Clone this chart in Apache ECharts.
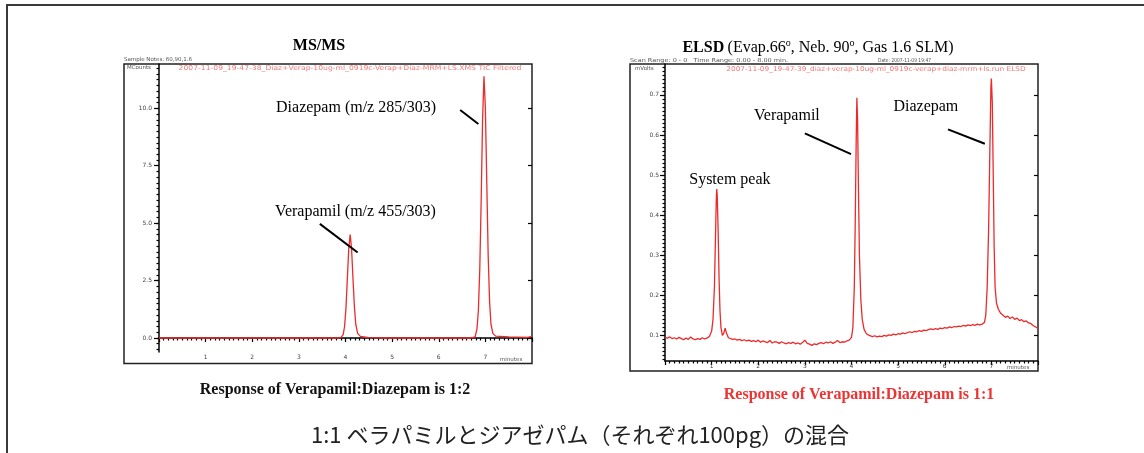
<!DOCTYPE html>
<html>
<head>
<meta charset="utf-8">
<script src="https://cdn.jsdelivr.net/npm/echarts@6/dist/echarts.min.js"></script>
<style>
  html, body { margin: 0; padding: 0; background: #fff; }
  #chart { width: 1144px; height: 453px; }
</style>
</head>
<body>
<div id="chart"></div>
<script>
// MS/MS trace (minutes, MCounts)
const msTime = [0, 3.80, 3.90, 3.95, 3.98, 4.01, 4.04, 4.07, 4.10, 4.13, 4.16, 4.19, 4.22, 4.26, 4.32, 4.50, 4.80,
  6.70, 6.78, 6.82, 6.85, 6.88, 6.91, 6.94, 6.97, 7.00, 7.03, 7.06, 7.09, 7.12, 7.16, 7.22, 7.50, 7.90, 8.00]
const msCounts = [0, 0, 0.02, 0.15, 0.5, 1.3, 2.6, 3.9, 4.5, 3.9, 2.6, 1.4, 0.6, 0.2, 0.07, 0.02, 0,
  0, 0.05, 0.4, 1.2, 3.0, 6.0, 9.5, 11.4, 10.0, 6.8, 3.6, 1.6, 0.6, 0.2, 0.08, 0.05, 0.03, 0.07]

// ELSD trace (minutes, mVolts)
const elsdTime = [0.00, 0.05, 0.10, 0.15, 0.20, 0.25, 0.30, 0.35, 0.40, 0.45, 0.50, 0.55, 0.60, 0.65, 0.70, 0.75,
  0.80, 0.85, 0.90, 0.95, 1.00, 1.03, 1.06, 1.08, 1.10, 1.11, 1.12, 1.14, 1.16, 1.18, 1.20, 1.23, 1.26, 1.29,
  1.32, 1.36, 1.40, 1.45, 1.50, 1.55, 1.60, 1.65, 1.70, 1.75, 1.80, 1.85, 1.90, 1.95, 2.00, 2.05, 2.10, 2.15,
  2.20, 2.25, 2.30, 2.35, 2.40, 2.45, 2.50, 2.55, 2.60, 2.65, 2.70, 2.75, 2.80, 2.85, 2.90, 2.95, 3.00, 3.05,
  3.10, 3.15, 3.20, 3.25, 3.30, 3.35, 3.40, 3.45, 3.50, 3.55, 3.60, 3.65, 3.70, 3.75, 3.80, 3.85, 3.90, 3.95,
  4.00, 4.03, 4.06, 4.08, 4.10, 4.115, 4.13, 4.15, 4.17, 4.20, 4.23, 4.27, 4.32, 4.38, 4.45, 4.50, 4.55, 4.60,
  4.65, 4.70, 4.75, 4.80, 4.85, 4.90, 4.95, 5.00, 5.05, 5.10, 5.15, 5.20, 5.25, 5.30, 5.35, 5.40, 5.45, 5.50,
  5.55, 5.60, 5.65, 5.70, 5.75, 5.80, 5.85, 5.90, 5.95, 6.00, 6.05, 6.10, 6.15, 6.20, 6.25, 6.30, 6.35, 6.40,
  6.45, 6.50, 6.55, 6.60, 6.65, 6.70, 6.75, 6.80, 6.85, 6.88, 6.91, 6.94, 6.97, 6.99, 7.00, 7.02, 7.04, 7.06,
  7.08, 7.11, 7.15, 7.20, 7.25, 7.30, 7.35, 7.40, 7.45, 7.50, 7.55, 7.60, 7.65, 7.70, 7.75, 7.80, 7.85, 7.90,
  7.95, 8.00]
const elsdVolts = [0.095, 0.093, 0.096, 0.092, 0.094, 0.091, 0.095, 0.092, 0.089, 0.093, 0.090, 0.096, 0.091, 0.089, 0.092, 0.090,
  0.094, 0.091, 0.093, 0.097, 0.11, 0.14, 0.22, 0.33, 0.44, 0.465, 0.45, 0.36, 0.24, 0.16, 0.12, 0.10, 0.105, 0.118,
  0.105, 0.094, 0.092, 0.090, 0.091, 0.088, 0.090, 0.087, 0.089, 0.086, 0.088, 0.085, 0.087, 0.084, 0.088, 0.083, 0.086, 0.084,
  0.082, 0.087, 0.081, 0.084, 0.083, 0.080, 0.084, 0.081, 0.079, 0.082, 0.080, 0.083, 0.079, 0.081, 0.078, 0.082, 0.088, 0.080,
  0.078, 0.075, 0.079, 0.077, 0.080, 0.082, 0.079, 0.083, 0.081, 0.084, 0.080, 0.083, 0.087, 0.082, 0.084, 0.083, 0.086, 0.088,
  0.095, 0.12, 0.22, 0.38, 0.58, 0.693, 0.64, 0.46, 0.30, 0.19, 0.14, 0.115, 0.104, 0.100, 0.097, 0.099, 0.096, 0.098,
  0.097, 0.100, 0.098, 0.101, 0.100, 0.103, 0.101, 0.104, 0.103, 0.106, 0.104, 0.107, 0.109, 0.107, 0.110, 0.109, 0.112, 0.110,
  0.113, 0.112, 0.114, 0.116, 0.114, 0.117, 0.115, 0.118, 0.117, 0.119, 0.118, 0.121, 0.119, 0.122, 0.121, 0.123, 0.122, 0.125,
  0.123, 0.126, 0.124, 0.127, 0.125, 0.128, 0.126, 0.128, 0.132, 0.15, 0.22, 0.36, 0.58, 0.72, 0.741, 0.68, 0.50, 0.32,
  0.22, 0.18, 0.165, 0.155, 0.150, 0.145, 0.148, 0.142, 0.146, 0.140, 0.143, 0.137, 0.139, 0.134, 0.136, 0.131, 0.129, 0.124,
  0.121, 0.117]

// axis ticks
const msTicks = [0, 2.5, 5, 7.5, 10]
const elsdTicks = [0.1, 0.2, 0.3, 0.4, 0.5, 0.6, 0.7]
const msRange = [-0.61, 11.93]
const elsdRange = [0.036, 0.777]

// minor ticks on y axes
const msMinor = []
for (let v = -0.5; v <= 11.9; v += 0.25) msMinor.push(+v.toFixed(2))
const elsdMinor = []
for (let v = 0.04; v <= 0.775; v += 0.01) elsdMinor.push(+v.toFixed(2))

// callouts
const msLabels = [
  { name: 'Diazepam (m/z 285/303)', coord: [2.51, 10.01] },
  { name: 'Verapamil (m/z 455/303)', coord: [2.49, 5.5] },
]
const msPointers = [
  [[6.46, 9.93], [6.85, 9.32]],
  [[3.45, 4.97], [4.26, 3.72]],
]
const elsdLabels = [
  { name: 'System peak', coord: [0.52, 0.488] },
  { name: 'Verapamil', coord: [1.91, 0.649] },
  { name: 'Diazepam', coord: [4.90, 0.671] },
]
const elsdPointers = [
  [[3.0, 0.604], [3.99, 0.552]],
  [[6.07, 0.614], [6.86, 0.578]],
]

const zip = (a, b) => a.map((v, i) => [v, b[i]])

const tiny = { fontFamily: 'DejaVu Sans', fontSize: 5.5, fill: '#555' }
const header = { fontFamily: 'DejaVu Sans', fontSize: 6.6, fill: '#f07a7a' }
const tickStyle = { color: '#000', width: 1.2 }

const xAxisBase = (gridIndex) => ({
  type: 'value',
  gridIndex,
  min: 0,
  max: 8,
  interval: 1,
  axisLine: { lineStyle: { color: '#000', width: 1.5 } },
  axisTick: { length: 4, lineStyle: tickStyle },
  minorTick: { show: true, splitNumber: 10, length: 2.5, lineStyle: tickStyle },
  axisLabel: {
    fontSize: 6, color: '#444', margin: 2, fontFamily: 'DejaVu Sans',
    showMinLabel: false, showMaxLabel: false,
  },
  splitLine: { show: false },
})

const yAxes = (gridIndex, range, ticks, minor, margin) => [
  {
    type: 'value', gridIndex, min: range[0], max: range[1], position: 'left',
    axisLine: { show: true, lineStyle: { color: '#000', width: 1.5 } },
    axisTick: { customValues: ticks, length: 5, lineStyle: tickStyle },
    axisLabel: {
      customValues: ticks, fontSize: 6, color: '#444', margin, fontFamily: 'DejaVu Sans',
      formatter: (v) => v.toFixed(1),
    },
    splitLine: { show: false },
  },
  {
    type: 'value', gridIndex, min: range[0], max: range[1], position: 'left',
    axisLine: { show: false },
    axisTick: { show: true, customValues: minor, length: 2.5, lineStyle: tickStyle },
    axisLabel: { show: false },
    splitLine: { show: false },
  },
  {
    type: 'value', gridIndex, min: range[0], max: range[1], position: 'right',
    axisLine: { show: false },
    axisTick: { show: true, customValues: ticks, inside: true, length: 4, lineStyle: tickStyle },
    axisLabel: { show: false },
    splitLine: { show: false },
  },
]

const callouts = (labels, pointers) => ({
  markPoint: {
    symbolSize: 0,
    silent: true,
    label: {
      show: true, position: 'right', distance: 0, formatter: '{b}',
      color: '#000', fontFamily: 'Liberation Serif', fontSize: 16,
    },
    data: labels,
  },
  markLine: {
    symbol: 'none',
    silent: true,
    label: { show: false },
    lineStyle: { color: '#000', width: 2, type: 'solid' },
    data: pointers.map((p) => [{ coord: p[0] }, { coord: p[1] }]),
  },
})

const chart = echarts.init(document.getElementById('chart'), null, { renderer: 'canvas' })
chart.setOption({
  animation: false,
  backgroundColor: '#fff',
  grid: [
    { left: 159, top: 64, width: 373, height: 288 },
    { left: 665, top: 64, width: 373, height: 297 },
  ],
  xAxis: [xAxisBase(0), xAxisBase(1)],
  yAxis: [
    ...yAxes(0, msRange, msTicks, msMinor, 7),
    ...yAxes(1, elsdRange, elsdTicks, elsdMinor, 6),
  ],
  series: [
    {
      type: 'line', xAxisIndex: 0, yAxisIndex: 0,
      data: zip(msTime, msCounts),
      showSymbol: false,
      lineStyle: { color: '#ec2a2a', width: 1.3 },
      ...callouts(msLabels, msPointers),
    },
    {
      type: 'line', xAxisIndex: 1, yAxisIndex: 3,
      data: zip(elsdTime, elsdVolts),
      showSymbol: false,
      lineStyle: { color: '#ec2a2a', width: 1.3 },
      ...callouts(elsdLabels, elsdPointers),
    },
  ],
  graphic: [
    // outer frame
    { type: 'polyline', shape: { points: [[7, 453], [7, 5], [1144, 5]] }, style: { stroke: '#3a3a3a', lineWidth: 2, fill: null } },
    // chart boxes
    { type: 'rect', shape: { x: 124, y: 64, width: 408, height: 299.5 }, style: { stroke: '#222', lineWidth: 1.5, fill: null } },
    { type: 'rect', shape: { x: 630, y: 64, width: 408, height: 307 }, style: { stroke: '#222', lineWidth: 1.5, fill: null } },
    // titles
    { type: 'text', x: 319, y: 46, style: { text: 'MS/MS', fontFamily: 'Liberation Serif', fontWeight: 'bold', fontSize: 16, fill: '#000', align: 'center', verticalAlign: 'middle' } },
    {
      type: 'text', x: 818, y: 47,
      style: {
        text: '{b|ELSD} {n|(Evap.66}{s|o}{n|, Neb. 90}{s|o}{n|, Gas 1.6 SLM)}',
        align: 'center', verticalAlign: 'middle', fill: '#000',
        rich: {
          b: { fontFamily: 'Liberation Serif', fontWeight: 'bold', fontSize: 16, lineHeight: 18, verticalAlign: 'bottom' },
          n: { fontFamily: 'Liberation Serif', fontSize: 16, lineHeight: 18, verticalAlign: 'bottom' },
          s: { fontFamily: 'Liberation Serif', fontSize: 10, lineHeight: 10, verticalAlign: 'top' },
        },
      },
    },
    // small header notes
    { type: 'text', x: 124, y: 60, style: { ...tiny, text: 'Sample Notes: 60,90,1.6', verticalAlign: 'middle' } },
    { type: 'text', x: 630, y: 61, scaleX: 1.18, style: { ...tiny, text: 'Scan Range: 0 - 0   Time Range: 0.00 - 8.00 min.', verticalAlign: 'middle' } },
    { type: 'text', x: 878, y: 61, scaleX: 0.8, style: { ...tiny, text: 'Date: 2007-11-09 19:47', verticalAlign: 'middle' } },
    { type: 'text', x: 127, y: 68, style: { ...tiny, text: 'MCounts', verticalAlign: 'middle' } },
    { type: 'text', x: 635, y: 69, style: { ...tiny, text: 'mVolts', verticalAlign: 'middle' } },
    { type: 'text', x: 500, y: 360, style: { ...tiny, text: 'minutes', verticalAlign: 'middle' } },
    { type: 'text', x: 1007, y: 368, style: { ...tiny, text: 'minutes', verticalAlign: 'middle' } },
    { type: 'text', x: 350, y: 68, scaleX: 1.16, style: { ...header, text: '2007-11-09_19-47-38_Diaz+Verap-10ug-ml_0919c-Verap+Diaz-MRM+LS.XMS TIC Filtered', align: 'center', verticalAlign: 'middle' } },
    { type: 'text', x: 876, y: 69, scaleX: 1.12, style: { ...header, text: '2007-11-09_19-47-39_diaz+verap-10ug-ml_0919c-verap+diaz-mrm+ls.run ELSD', align: 'center', verticalAlign: 'middle' } },
    // response notes
    { type: 'text', x: 335, y: 390, style: { text: 'Response of Verapamil:Diazepam is 1:2', fontFamily: 'Liberation Serif', fontWeight: 'bold', fontSize: 16, fill: '#111', align: 'center', verticalAlign: 'middle' } },
    { type: 'text', x: 859, y: 395, style: { text: 'Response of Verapamil:Diazepam is 1:1', fontFamily: 'Liberation Serif', fontWeight: 'bold', fontSize: 16, fill: '#ee3333', align: 'center', verticalAlign: 'middle' } },
    // caption
    { type: 'text', x: 580, y: 435, style: { text: '1:1 ベラパミルとジアゼパム（それぞれ100pg）の混合', fontFamily: 'Noto Sans CJK JP', fontSize: 22, fill: '#222', align: 'center', verticalAlign: 'middle' } },
  ],
})
</script>
</body>
</html>
